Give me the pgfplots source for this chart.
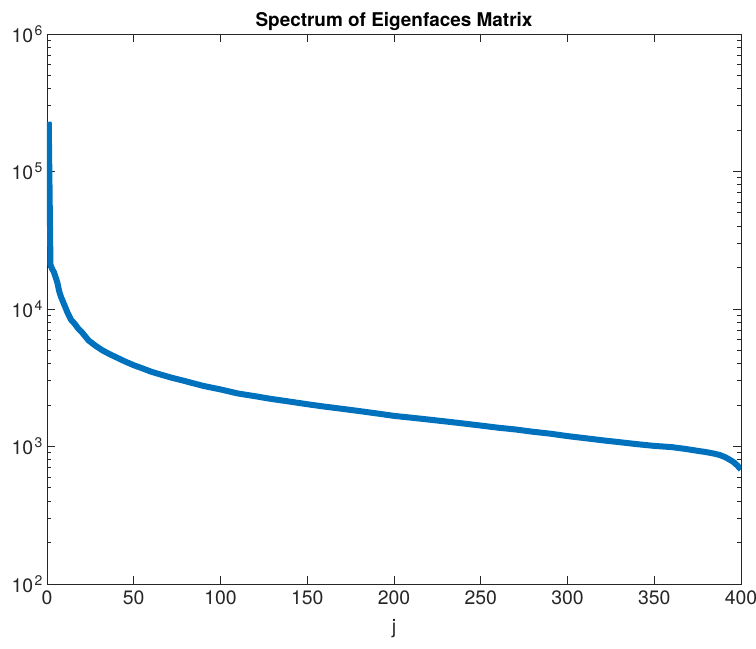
\documentclass[border=0pt]{standalone}
\usepackage{fontspec}
\setmainfont{TeX Gyre Heros}
\usepackage{pgfplots}
\pgfplotsset{compat=1.18}
\definecolor{mblue}{RGB}{0,114,189}
\definecolor{maxis}{RGB}{38,38,38}
\newcommand{\ep}[1]{10\kern1.5bp\raisebox{0.7ex}{\fontsize{14}{14}\selectfont #1}}

\begin{document}
\begin{tikzpicture}
\begin{semilogyaxis}[
    scale only axis,
    width=694bp, height=550bp,
    xmin=0, xmax=400,
    ymin=100, ymax=1000000,
    xtick={0,50,...,400},
    ytick={100,1000,10000,100000,1000000},
    yticklabels={\ep{2},\ep{3},\ep{4},\ep{5},\ep{6}},
    /pgf/number format/assume math mode=true,
    tick label style={font=\fontsize{19.5}{21}\selectfont, text=maxis},
    xlabel={j},
    xlabel style={font=\fontsize{20}{22}\selectfont, text=maxis, yshift=-8bp},
    title={Spectrum of Eigenfaces Matrix},
    title style={font=\bfseries\fontsize{19}{21}\selectfont, yshift=-6bp},
    axis line style={maxis, line width=0.8bp},
    every tick/.style={maxis, line width=0.8bp},
    major tick length=8bp,
    minor tick length=4.5bp,
    tick align=inside,
    xticklabel style={yshift=-3bp},
    yticklabel style={xshift=-1bp},
]
\addplot[color=mblue, line width=6bp, line join=round] coordinates {
(1,230000)(2,21000)(3,19500)(4,18500)(5,17000)(6,15500)(7,13500)(8,12300)
(9,11500)(10,10700)(12,9300)(14,8300)(16,7800)(18,7200)(20,6800)(24,5900)
(28,5400)(32,5000)(36,4700)(40,4450)(45,4150)(50,3900)(55,3700)(60,3500)
(65,3350)(72,3160)(80,2980)(90,2760)(100,2600)(110,2430)(120,2320)(130,2210)
(140,2120)(150,2030)(160,1950)(170,1880)(180,1810)(190,1740)(200,1670)
(210,1620)(220,1570)(230,1520)(240,1470)(250,1420)(260,1370)(270,1330)
(280,1280)(290,1240)(300,1190)(310,1150)(320,1110)(330,1075)(340,1040)
(350,1010)(360,990)(368,960)(375,930)(380,910)(385,885)(388,865)(391,835)
(394,795)(396,765)(398,725)(400,680)
};
\end{semilogyaxis}
\pgfresetboundingbox
\path[use as bounding box] ([xshift=-47bp,yshift=-65bp]current axis.south west) rectangle ([xshift=15bp,yshift=34bp]current axis.north east);
\end{tikzpicture}
\end{document}
